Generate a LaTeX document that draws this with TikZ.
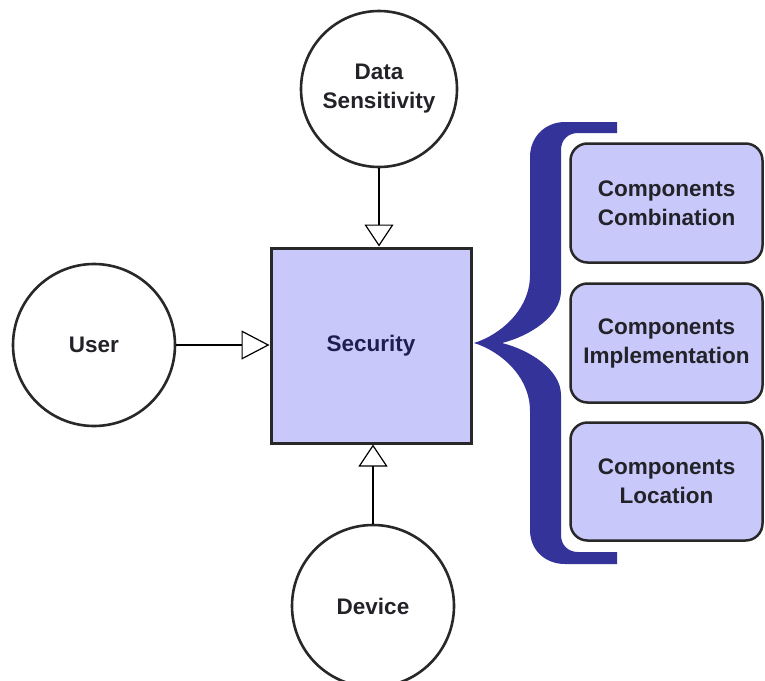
\documentclass[tikz,border=0pt]{standalone}
\usepackage{fontspec}
\setmainfont{Liberation Sans}
\usetikzlibrary{arrows.meta}
\definecolor{boxfill}{RGB}{200,200,250}
\definecolor{bracecol}{RGB}{51,51,153}
\definecolor{txt}{RGB}{34,34,40}
\definecolor{navy}{RGB}{30,30,80}
\definecolor{edge}{RGB}{40,40,40}
\begin{document}
\begin{tikzpicture}[x=1pt,y=-1pt,
  every node/.style={font=\fontsize{22.5}{29}\selectfont\bfseries, text=txt, align=center},
  entity/.style={circle, draw=edge, line width=2.6pt, fill=white, minimum size=#1, inner sep=0pt},
  secbox/.style={rectangle, draw=edge, line width=3pt, fill=boxfill, minimum width=200pt, minimum height=195pt, text=navy},
  compbox/.style={rectangle, rounded corners=17pt, draw=edge, line width=2.5pt, fill=boxfill, minimum width=192pt, minimum height=#1, inner sep=0pt},
  conn/.style={draw=black, line width=1.2pt, -{Triangle[open, length=#1, width=29pt, line width=1.2pt]}},
  conn/.default=22pt
]
\useasboundingbox[fill=white] (0,0) rectangle (765,680);

\node[entity=156pt] (data) at (379,89) {Data\\Sensitivity};
\node[entity=162pt] (user) at (94,345) {User};
\node[entity=162pt] (dev) at (373,606) {Device};
\node[secbox] (sec) at (371,345.5) {Security};

\node[compbox=119pt] (c1) at (666.5,203) {Components\\Combination};
\node[compbox=119pt] (c2) at (666.5,343) {Components\\Implementation};
\node[compbox=118pt] (c3) at (666.5,481.5) {Components\\Location};

\draw[conn] (data.south) -- (data.south |- sec.north);
\draw[conn=28pt] (user.east) -- (user.east -| sec.west);
\draw[conn] (dev.north) -- (dev.north |- sec.south);

\fill[bracecol] (617,122) -- (565,122) .. controls (545,122) and (530,137) .. (530,157)
  -- (530,275) .. controls (530,310) and (500,335) .. (474,343)
  .. controls (500,351) and (530,376) .. (530,411)
  -- (530,530) .. controls (530,550) and (545,564) .. (565,564)
  -- (617,564) -- (617,552) -- (578,552) .. controls (568,552) and (561,545) .. (561,535)
  -- (561,395) .. controls (561,370) and (530,350) .. (502,343)
  .. controls (530,336) and (561,316) .. (561,291)
  -- (561,150) .. controls (561,140) and (568,133) .. (578,133)
  -- (617,133) -- cycle;
\end{tikzpicture}
\end{document}
